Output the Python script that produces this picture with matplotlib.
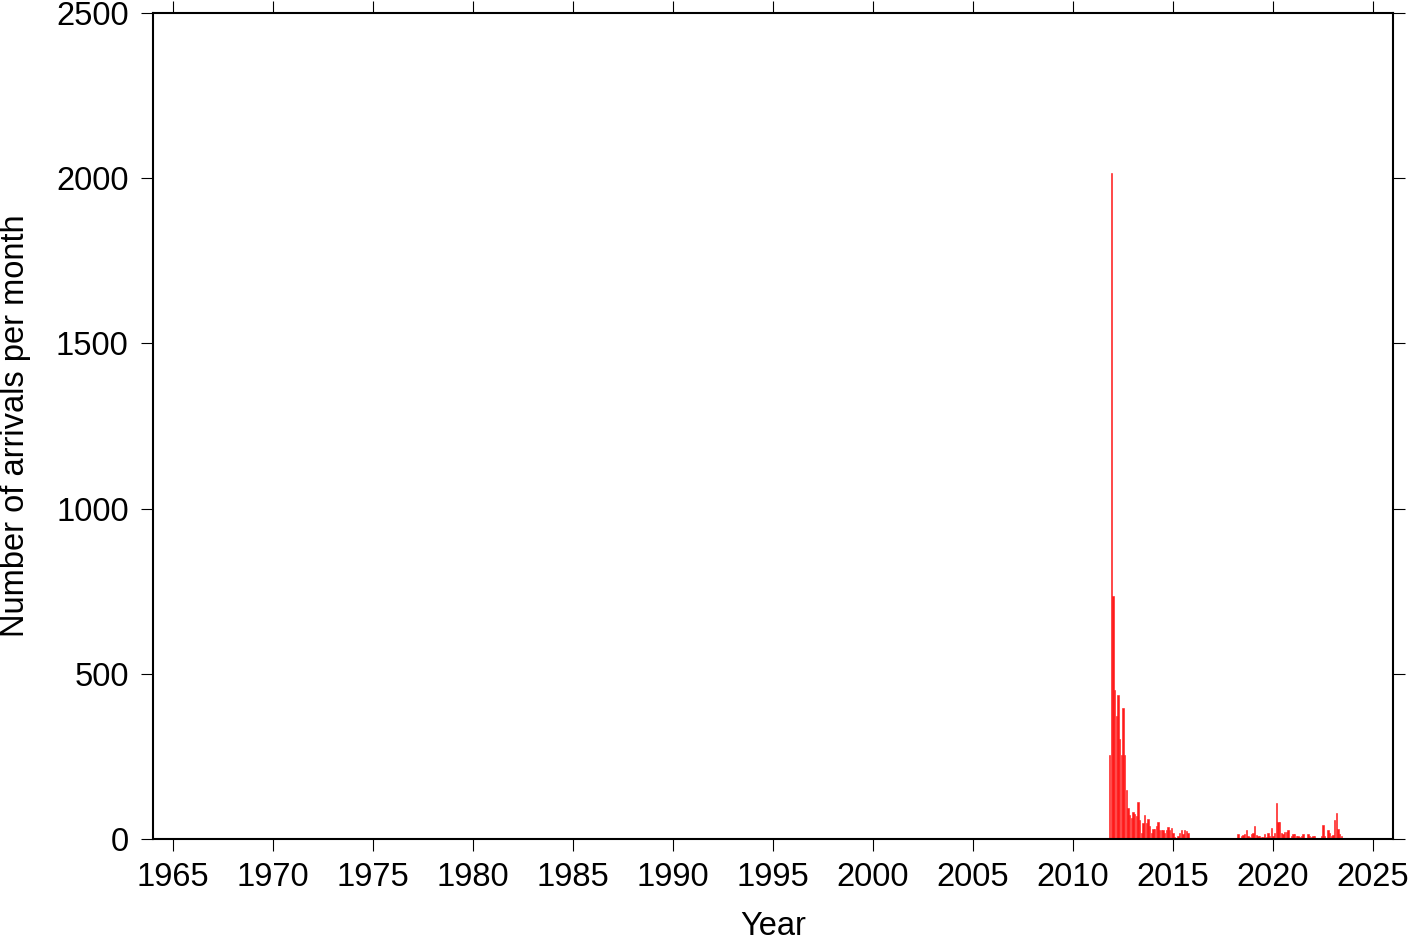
import numpy as np
import matplotlib.pyplot as plt

plt.rcParams['font.family'] = ['Liberation Sans', 'DejaVu Sans']

# monthly arrival counts, two recording periods
start1 = 2011 + 10 / 12   # Nov 2011
counts1 = [254, 2015, 735, 451, 372, 435, 302, 254, 396, 254,
           147, 95, 73, 63, 82, 77, 70, 112, 58, 19,
           48, 72, 48, 60, 38, 18, 30, 30, 39, 50,
           26, 28, 27, 18, 26, 35, 27, 33, 19, 6,
           0, 10, 19, 28, 15, 26, 23, 17]

start2 = 2018 + 3 / 12    # Apr 2018
counts2 = [14, 0, 8, 13, 16, 27, 10, 6, 16, 19,
           38, 12, 10, 8, 5, 5, 16, 5, 19, 8,
           34, 8, 19, 108, 51, 50, 17, 15, 22, 22,
           27, 4, 10, 16, 14, 10, 10, 5, 9, 14,
           3, 0, 16, 9, 5, 10, 8, 3, 2, 2,
           10, 41, 10, 2, 27, 18, 9, 11, 58, 79,
           30, 14, 8]

years = list(range(1965, 2030, 5))
yticks = [0, 500, 1000, 1500, 2000, 2500]

fig = plt.figure(figsize=(14.19, 9.42), dpi=100)
ax = fig.add_axes([153 / 1419, 1 - 839 / 942, (1393 - 153) / 1419, (839 - 13) / 942])

for start, counts in [(start1, counts1), (start2, counts2)]:
    x = start + np.arange(len(counts)) / 12
    ax.bar(x, counts, width=1 / 12, color='#ff1a1a',
           edgecolor='#ff1a1a', linewidth=0.4)

ax.set_xlim(1964, 2026)
ax.set_ylim(0, 2500)
ax.set_xticks(years)
ax.set_yticks(yticks)
ax.tick_params(direction='out', length=8.5, width=0.8, labelsize=23.5,
               top=True, right=True, pad=9)
ax.tick_params(axis='x', pad=8)
for s in ax.spines.values():
    s.set_linewidth(1.5)

ax.set_xlabel('Year', fontsize=23.5, labelpad=13)
ax.set_ylabel('Number of arrivals per month', fontsize=23.5, labelpad=18)

fig.savefig('out.png', dpi=100)
